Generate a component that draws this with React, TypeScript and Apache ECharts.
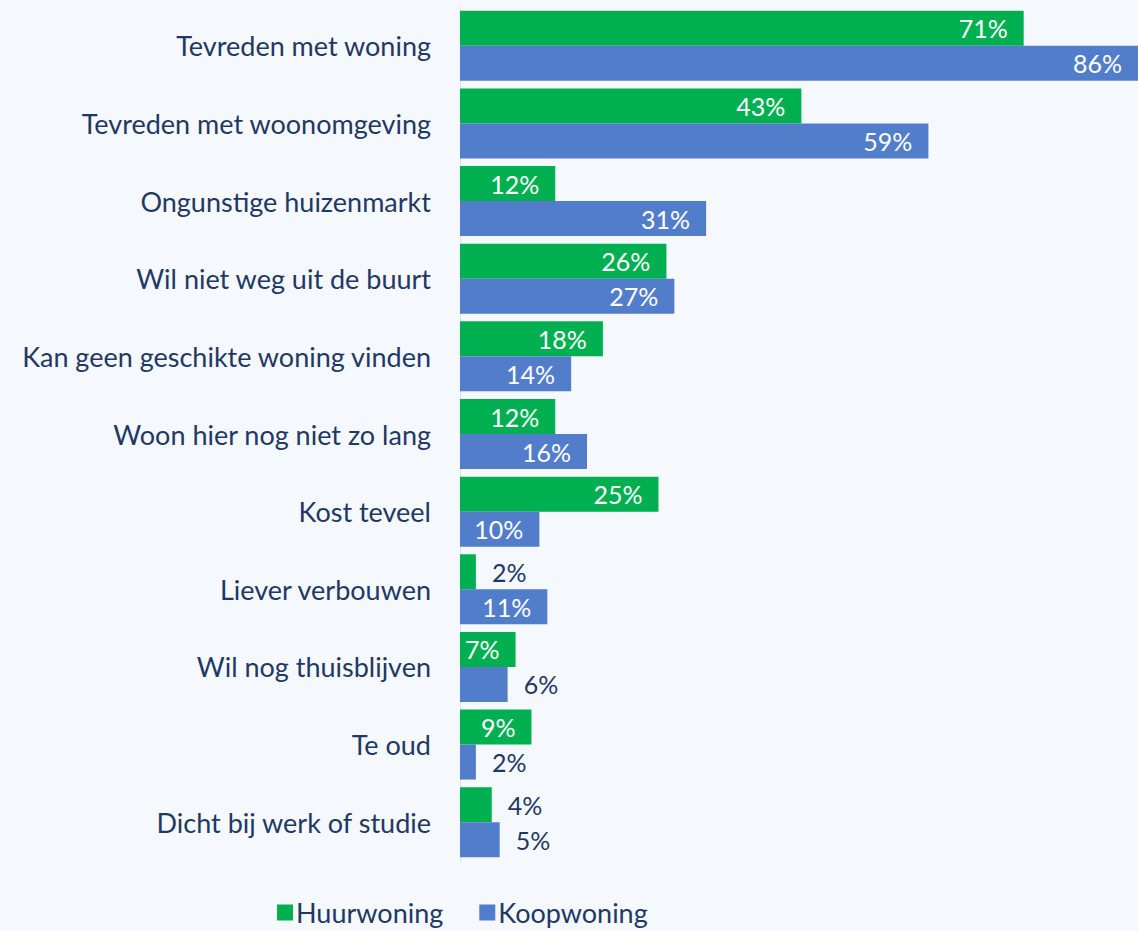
import React, { useEffect, useRef } from "react";
import * as echarts from "echarts";

const categories = [
  "Tevreden met woning",
  "Tevreden met woonomgeving",
  "Ongunstige huizenmarkt",
  "Wil niet weg uit de buurt",
  "Kan geen geschikte woning vinden",
  "Woon hier nog niet zo lang",
  "Kost teveel",
  "Liever verbouwen",
  "Wil nog thuisblijven",
  "Te oud",
  "Dicht bij werk of studie",
];
const huurwoning = [71, 43, 12, 26, 18, 12, 25, 2, 7, 9, 4];
const koopwoning = [86, 59, 31, 27, 14, 16, 10, 11, 6, 2, 5];
const seriesNames = ["Huurwoning", "Koopwoning"];

const GREEN = "#00b050";
const BLUE = "#527dca";
const TEXT = "#1f3864";
const FONT = "Lato";

function toData(values: number[]) {
  return values.map((v) => {
    const inside = v >= 7;
    return {
      value: v,
      label: {
        position: inside ? "insideRight" : "right",
        distance: 16,
        color: inside ? "#ffffff" : TEXT,
      },
    };
  });
}

export default function App() {
  const ref = useRef<HTMLDivElement>(null);
  useEffect(() => {
    if (!ref.current) return;
    const chart = echarts.init(ref.current, undefined, { renderer: "svg" });
    chart.setOption({
      animation: false,
      backgroundColor: "#f5f8fc",
      textStyle: { fontFamily: FONT },
      grid: { left: 460, right: 0, top: 7, bottom: 70, containLabel: false },
      legend: {
        bottom: 0,
        left: 272,
        itemWidth: 16,
        itemHeight: 16,
        itemGap: 36,
        icon: "rect",
        textStyle: { fontFamily: FONT, fontSize: 27, color: TEXT, padding: [0, 0, 0, -2] },
        data: seriesNames,
      },
      xAxis: { type: "value", min: 0, max: 85.4, show: false },
      yAxis: {
        type: "category",
        inverse: true,
        data: categories,
        axisTick: { show: false },
        axisLine: { show: true, lineStyle: { color: "#dde2ea", width: 1 } },
        axisLabel: { fontFamily: FONT, fontSize: 27, color: TEXT, margin: 29 },
      },
      series: [
        {
          name: seriesNames[0],
          type: "bar",
          barWidth: 35,
          barGap: "0%",
          itemStyle: { color: GREEN },
          label: { show: true, fontFamily: FONT, fontSize: 25, formatter: "{c}%" },
          data: toData(huurwoning),
        },
        {
          name: seriesNames[1],
          type: "bar",
          barWidth: 35,
          barGap: "0%",
          itemStyle: { color: BLUE },
          label: { show: true, fontFamily: FONT, fontSize: 25, formatter: "{c}%" },
          data: toData(koopwoning),
        },
      ],
    });
    return () => chart.dispose();
  }, []);
  return (
    <div
      ref={ref}
      style={{ position: "fixed", left: 0, top: 0, width: 1138, height: 931 }}
    />
  );
}
